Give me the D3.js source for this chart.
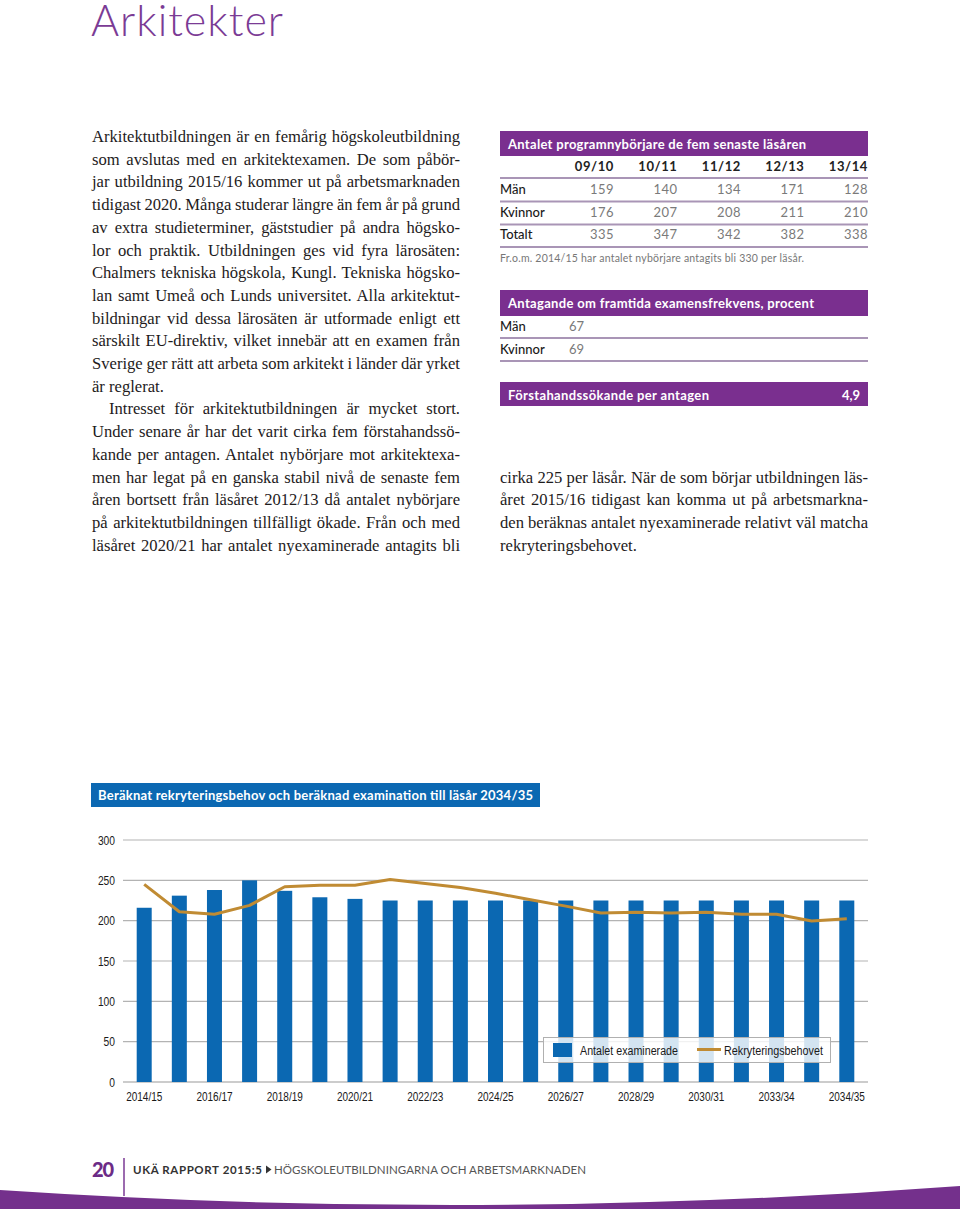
<!DOCTYPE html>
<html><head><meta charset="utf-8">
<script src="https://cdn.jsdelivr.net/npm/d3@7"></script>
<style>
html,body{margin:0;padding:0;background:#fff;}
svg{display:block;}
</style></head><body>
<svg id="page" width="960" height="1209"></svg>
<script>
// ---------- DATA ----------
const pageTitle = "Arkitekter";

const leftLines = [
  "Arkitektutbildningen är en femårig högskoleutbildning",
  "som avslutas med en arkitektexamen. De som påbör-",
  "jar utbildning 2015/16 kommer ut på arbetsmarknaden",
  "tidigast 2020. Många studerar längre än fem år på grund",
  "av extra studieterminer, gäststudier på andra högsko-",
  "lor och praktik. Utbildningen ges vid fyra lärosäten:",
  "Chalmers tekniska högskola, Kungl. Tekniska högsko-",
  "lan samt Umeå och Lunds universitet. Alla arkitektut-",
  "bildningar vid dessa lärosäten är utformade enligt ett",
  "särskilt EU-direktiv, vilket innebär att en examen från",
  "Sverige ger rätt att arbeta som arkitekt i länder där yrket",
  "är reglerat.",
  "Intresset för arkitektutbildningen är mycket stort.",
  "Under senare år har det varit cirka fem förstahandssö-",
  "kande per antagen. Antalet nybörjare mot arkitektexa-",
  "men har legat på en ganska stabil nivå de senaste fem",
  "åren bortsett från läsåret 2012/13 då antalet nybörjare",
  "på arkitektutbildningen tillfälligt ökade. Från och med",
  "läsåret 2020/21 har antalet nyexaminerade antagits bli"
];
const leftRagged = [11];      // lines not justified (paragraph ends)
const leftIndented = [12];    // first line of paragraph 2

const rightLines = [
  "cirka 225 per läsår. När de som börjar utbildningen läs-",
  "året 2015/16 tidigast kan komma ut på arbetsmarkna-",
  "den beräknas antalet nyexaminerade relativt väl matcha",
  "rekryteringsbehovet."
];
const rightRagged = [3];

const table1Title = "Antalet programnybörjare de fem senaste läsåren";
const table1Years = ["09/10", "10/11", "11/12", "12/13", "13/14"];
const table1RowLabels = ["Män", "Kvinnor", "Totalt"];
const table1Man = [159, 140, 134, 171, 128];
const table1Kvinnor = [176, 207, 208, 211, 210];
const table1Totalt = [335, 347, 342, 382, 338];
const table1Note = "Fr.o.m. 2014/15 har antalet nybörjare antagits bli 330 per läsår.";

const table2Title = "Antagande om framtida examensfrekvens, procent";
const table2Labels = ["Män", "Kvinnor"];
const table2Values = [67, 69];

const table3Label = "Förstahandssökande per antagen";
const table3Value = "4,9";

const chartTitle = "Beräknat rekryteringsbehov och beräknad examination till läsår 2034/35";
const categories = ["2014/15","2015/16","2016/17","2017/18","2018/19","2019/20","2020/21",
  "2021/22","2022/23","2023/24","2024/25","2025/26","2026/27","2027/28","2028/29",
  "2029/30","2030/31","2031/32","2032/33","2033/34","2034/35"];
const tickLabels = ["2014/15","2016/17","2018/19","2020/21","2022/23","2024/25",
  "2026/27","2028/29","2030/31","2033/34","2034/35"];
const examinerade = [216, 231, 238, 250, 237, 229, 227, 225, 225, 225, 225,
  225, 225, 225, 225, 225, 225, 225, 225, 225, 225];
const rekrytering = [245, 211, 208, 219, 242, 244, 244, 251, 246, 241, 234,
  226, 218, 209.5, 210.5, 209.5, 210.5, 208, 208, 199.5, 202.5];
const yTicks = [0, 50, 100, 150, 200, 250, 300];
const legendLabels = ["Antalet examinerade", "Rekryteringsbehovet"];

const footerPage = "20";
const footerReport = "UKÄ RAPPORT 2015:5";
const footerSeries = "HÖGSKOLEUTBILDNINGARNA OCH ARBETSMARKNADEN";

// ---------- STYLE ----------
const PURPLE = "#7a2f8f";
const BLUE = "#0b68b2";
const GOLD = "#c08b33";
const SANS = "Lato, 'Open Sans', sans-serif";
const SERIF = "'Liberation Serif', 'DejaVu Serif', serif";
const NARROW = "'Liberation Sans', Arial, sans-serif";

const svg = d3.select("#page");

// condense a text element horizontally (emulates a condensed face)
function condense(sel, factor) {
  sel.each(function () {
    const len = this.getComputedTextLength();
    d3.select(this).attr("textLength", len * factor).attr("lengthAdjust", "spacingAndGlyphs");
  });
}

// Title
svg.append("text")
  .attr("x", 91).attr("y", 36)
  .attr("fill", "#7b3b95")
  .attr("textLength", 192).attr("lengthAdjust", "spacing")
  .style("font-family", SANS).style("font-weight", 300).style("font-size", "43px")
  .text(pageTitle);

// ---------- BODY TEXT ----------
function drawColumn(lines, x0, width, y0, lh, ragged, indents) {
  const g = svg.append("g")
    .style("font-family", SERIF).style("font-size", "16.6px")
    .attr("fill", "#1e1b1c");
  lines.forEach((line, i) => {
    const indent = indents.includes(i) ? 17 : 0;
    const t = g.append("text").attr("x", x0 + indent).attr("y", y0 + i * lh).text(line);
    if (!ragged.includes(i)) {
      const len = t.node().getComputedTextLength();
      const spaces = (line.match(/ /g) || []).length;
      if (spaces > 0) t.style("word-spacing", ((width - indent - len) / spaces) + "px");
    }
  });
}
drawColumn(leftLines, 92, 368, 142, 22.7, leftRagged, leftIndented);
drawColumn(rightLines, 500, 368, 482.5, 22.7, rightRagged, []);

// ---------- TABLE 1 ----------
const t1 = svg.append("g").style("font-family", SANS);
t1.append("rect").attr("x", 500).attr("y", 131).attr("width", 368).attr("height", 25).attr("fill", PURPLE);
t1.append("text").attr("x", 508).attr("y", 148.5).attr("fill", "#fff")
  .attr("textLength", 298).attr("lengthAdjust", "spacing")
  .style("font-weight", 700).style("font-size", "13px").text(table1Title);

const colRight = d3.scalePoint().domain(table1Years).range([614, 868]);
t1.selectAll("text.yr").data(table1Years).join("text")
  .attr("class", "yr")
  .attr("x", d => colRight(d)).attr("y", 171).attr("text-anchor", "end")
  .attr("fill", "#222").style("font-weight", 700).style("font-size", "13px")
  .style("letter-spacing", "0.6px")
  .text(d => d);
const rowBase = [194, 217, 239];
const rowLines = [178, 201.5, 224.5, 247];
rowLines.forEach(y => t1.append("rect").attr("x", 500).attr("y", y - 1).attr("width", 368).attr("height", 2).attr("fill", "#a995b6"));
const rowsData = [table1Man, table1Kvinnor, table1Totalt];
table1RowLabels.forEach((lab, r) => {
  t1.append("text").attr("x", 500).attr("y", rowBase[r]).attr("fill", "#1a1a1a")
    .style("font-size", "13px").style("font-weight", 500).text(lab);
  t1.selectAll("text.v" + r).data(rowsData[r]).join("text")
    .attr("class", "v" + r)
    .attr("x", (d, i) => colRight(table1Years[i])).attr("y", rowBase[r])
    .attr("text-anchor", "end").attr("fill", "#7a7a7a")
    .style("font-size", "13px").style("font-weight", 400).style("letter-spacing", "0.5px")
    .text(d => d);
});
t1.append("text").attr("x", 500).attr("y", 262).attr("fill", "#777")
  .attr("textLength", 304).attr("lengthAdjust", "spacing")
  .style("font-size", "10.5px").text(table1Note);

// ---------- TABLE 2 ----------
const t2 = svg.append("g").style("font-family", SANS);
t2.append("rect").attr("x", 500).attr("y", 290).attr("width", 368).attr("height", 26).attr("fill", PURPLE);
t2.append("text").attr("x", 508).attr("y", 308).attr("fill", "#fff")
  .attr("textLength", 306).attr("lengthAdjust", "spacing")
  .style("font-weight", 700).style("font-size", "13px").text(table2Title);
const t2Base = [331, 354];
const t2Lines = [338, 361];
table2Labels.forEach((lab, r) => {
  t2.append("text").attr("x", 500).attr("y", t2Base[r]).attr("fill", "#1a1a1a")
    .style("font-size", "13px").style("font-weight", 500).text(lab);
  t2.append("text").attr("x", 569).attr("y", t2Base[r]).attr("fill", "#7a7a7a")
    .style("font-size", "13px").text(table2Values[r]);
  t2.append("rect").attr("x", 500).attr("y", t2Lines[r] - 1).attr("width", 368).attr("height", 2).attr("fill", "#a995b6");
});
t2.append("rect").attr("x", 500).attr("y", 382).attr("width", 368).attr("height", 24).attr("fill", PURPLE);
t2.append("text").attr("x", 508).attr("y", 399.5).attr("fill", "#fff")
  .attr("textLength", 201).attr("lengthAdjust", "spacing")
  .style("font-weight", 700).style("font-size", "13px").text(table3Label);
t2.append("text").attr("x", 860).attr("y", 399.5).attr("text-anchor", "end").attr("fill", "#fff")
  .style("font-weight", 700).style("font-size", "13px").text(table3Value);

// ---------- CHART ----------
const ch = svg.append("g");
ch.append("rect").attr("x", 91).attr("y", 783).attr("width", 449).attr("height", 24).attr("fill", BLUE);
ch.append("text").attr("x", 98).attr("y", 800).attr("fill", "#fff")
  .attr("textLength", 435).attr("lengthAdjust", "spacing")
  .style("font-family", SANS).style("font-weight", 700).style("font-size", "13px").text(chartTitle);

const x = d3.scaleBand().domain(categories).range([123, 868]).paddingInner(0.573).paddingOuter(0.39);
const y = d3.scaleLinear().domain([0, 300]).range([1082, 840]);

// gridlines
ch.selectAll("line.grid").data(yTicks).join("line")
  .attr("class", "grid")
  .attr("x1", 123).attr("x2", 868)
  .attr("y1", d => y(d)).attr("y2", d => y(d))
  .attr("stroke", d => d === 0 ? "#9a9a9a" : "#b3b3b3").attr("stroke-width", 1.2);

// y axis labels
const yAxis = d3.axisLeft(y).tickValues(yTicks).tickSize(0).tickPadding(8);
const yg = ch.append("g").attr("transform", "translate(123,0)").call(yAxis);
yg.select(".domain").remove();
yg.selectAll("text").attr("fill", "#1a1a1a").style("font-family", NARROW).style("font-size", "12.5px");
condense(yg.selectAll("text"), 0.82);

// bars
ch.selectAll("rect.bar").data(examinerade).join("rect")
  .attr("class", "bar")
  .attr("x", (d, i) => x(categories[i]))
  .attr("width", x.bandwidth())
  .attr("y", d => y(d))
  .attr("height", d => y(0) - y(d))
  .attr("fill", BLUE);

// line
const line = d3.line()
  .x((d, i) => x(categories[i]) + x.bandwidth() / 2)
  .y(d => y(d));
ch.append("path").datum(rekrytering)
  .attr("d", line).attr("fill", "none")
  .attr("stroke", GOLD).attr("stroke-width", 3).attr("stroke-linejoin", "round");

// x axis labels
const tickCats = categories.filter((c, i) => i % 2 === 0);
const xAxis = d3.axisBottom(x).tickValues(tickCats).tickSize(0).tickPadding(10)
  .tickFormat(d => tickLabels[tickCats.indexOf(d)]);
const xg = ch.append("g").attr("transform", "translate(0,1082)").call(xAxis);
xg.select(".domain").remove();
xg.selectAll("text").attr("fill", "#1a1a1a").style("font-family", NARROW).style("font-size", "12.5px");
condense(xg.selectAll("text"), 0.8);

// legend
const lg = ch.append("g");
lg.append("rect").attr("x", 543.5).attr("y", 1037.5).attr("width", 287).attr("height", 25)
  .attr("fill", "rgba(255,255,255,0.82)").attr("stroke", "#b0b0b0").attr("stroke-width", 1);
lg.append("rect").attr("x", 553).attr("y", 1043).attr("width", 19).attr("height", 14).attr("fill", BLUE);
const l1 = lg.append("text").attr("x", 580).attr("y", 1054.5).attr("fill", "#1a1a1a")
  .style("font-family", NARROW).style("font-size", "12.5px").text(legendLabels[0]);
lg.append("line").attr("x1", 697).attr("x2", 721).attr("y1", 1049.5).attr("y2", 1049.5)
  .attr("stroke", GOLD).attr("stroke-width", 3);
const l2 = lg.append("text").attr("x", 724).attr("y", 1054.5).attr("fill", "#1a1a1a")
  .style("font-family", NARROW).style("font-size", "12.5px").text(legendLabels[1]);
l1.attr("textLength", 98).attr("lengthAdjust", "spacingAndGlyphs");
l2.attr("textLength", 99).attr("lengthAdjust", "spacingAndGlyphs");

// ---------- FOOTER ----------
const ft = svg.append("g").style("font-family", SANS);
ft.append("path").attr("d", "M0,1190 Q480,1222 960,1186 L960,1209 L0,1209 Z").attr("fill", "#74308c");
ft.append("text").attr("x", 92).attr("y", 1177).attr("fill", "#6c2b86")
  .attr("textLength", 22).attr("lengthAdjust", "spacing")
  .style("font-weight", 900).style("font-size", "20px").text(footerPage);
ft.append("line").attr("x1", 124).attr("x2", 124).attr("y1", 1158).attr("y2", 1196)
  .attr("stroke", "#7b3a94").attr("stroke-width", 1.5);
ft.append("text").attr("x", 133).attr("y", 1174).attr("fill", "#333")
  .attr("textLength", 129).attr("lengthAdjust", "spacing")
  .style("font-weight", 700).style("font-size", "11.5px").text(footerReport);
ft.append("path").attr("d", "M266,1165.5 L271.5,1169.5 L266,1173.5 Z").attr("fill", "#333");
ft.append("text").attr("x", 274).attr("y", 1174).attr("fill", "#555")
  .attr("textLength", 312).attr("lengthAdjust", "spacing")
  .style("font-weight", 400).style("font-size", "11.5px").text(footerSeries);
</script>
</body></html>
